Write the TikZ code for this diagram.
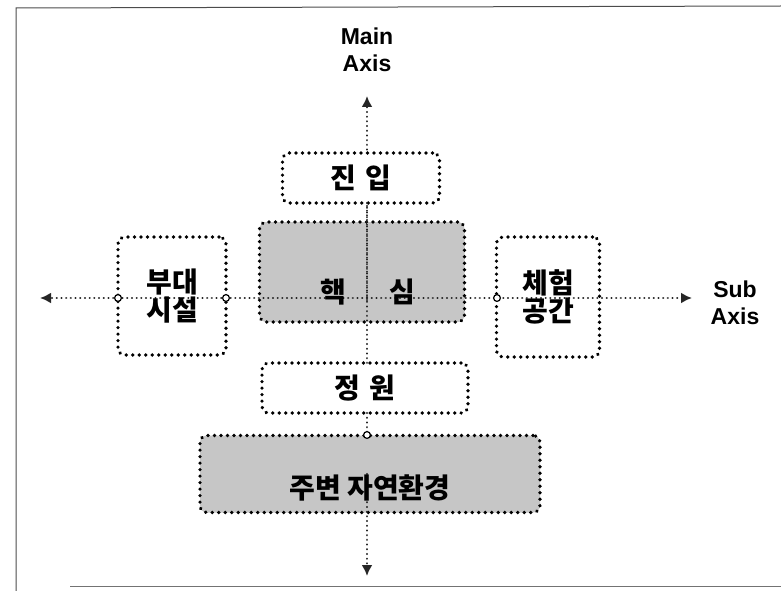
\documentclass[tikz,border=0pt]{standalone}
\usepackage{fontspec}
\setmainfont{Liberation Sans}
\newfontfamily\kr{Noto Sans CJK KR}[BoldFont={* Black}]
\usetikzlibrary{arrows.meta}
\begin{document}
\begin{tikzpicture}[x=1pt,y=-1pt,
  dotbox/.style={draw=black, line width=3.6pt, dash pattern=on 0.1pt off 6.4pt, line cap=round, rounded corners=7pt, inner sep=0pt, font=\kr\bfseries\fontsize{28}{31}\selectfont, align=center},
  shadebox/.style={dotbox, fill=gray!45},
  axisline/.style={draw=black!85, line width=2.2pt, dash pattern=on 0.1pt off 4.6pt, line cap=round},
  lbl/.style={font=\bfseries\fontsize{23}{27}\selectfont, align=center, inner sep=0pt},
  tip/.style={-{Latex[length=11pt,width=11pt]}}
]
\useasboundingbox (0,0) rectangle (781,591);
% scanned frame
\draw[black!70, line width=1pt] (16,591) -- (16,8) -- (781,6);
\draw[black!55, line width=1pt] (70,586) -- (781,586);
% axes
\coordinate (top) at (367,96);
\coordinate (bot) at (367,576);
\coordinate (lft) at (40,298);
\coordinate (rgt) at (692,298);
% boxes
\node[shadebox, minimum width=205pt, minimum height=100pt] (core) at (362,272) {};
\node[shadebox, minimum width=340pt, minimum height=77pt] (env) at (370,474) {};
\draw[axisline, tip] (367,474) -- (bot);
\draw[axisline, tip] (367,300) -- (top);
\draw[axisline, tip] (367,298) -- (lft);
\draw[axisline, tip] (367,298) -- (rgt);
\node[dotbox, fill=white, minimum width=157pt, minimum height=50pt] (entry) at (361,178) {진\hspace{9pt}입};
\node[dotbox, fill=white, minimum width=206pt, minimum height=50pt] (garden) at (365,388) {정\hspace{9pt}원};
\node[dotbox, minimum width=108pt, minimum height=118pt] (aux) at (172,296) {부대\\[-3pt]시설};
\node[dotbox, minimum width=103pt, minimum height=120pt] (exp) at (548,297) {체험\\[-3pt]공간};
\draw[axisline] (367,203) -- (367,363);
\draw[axisline] (367,413) -- (367,436);
\node[font=\kr\bfseries\fontsize{28}{31}\selectfont, inner sep=0pt] at (368,292) {핵\hspace{44pt}심};
\node[font=\kr\bfseries\fontsize{28}{31}\selectfont, inner sep=0pt] at (370,488) {주변 자연환경};
% small crossing marks
\foreach \p in {(118,298),(226,298),(497,298),(367,435)}
  \draw[black, line width=1.2pt, fill=white] \p circle (3.4pt);
% labels
\node[lbl] (main) at (367,50) {Main\\Axis};
\node[lbl] (sub) at (735,303) {Sub\\Axis};
\end{tikzpicture}
\end{document}
